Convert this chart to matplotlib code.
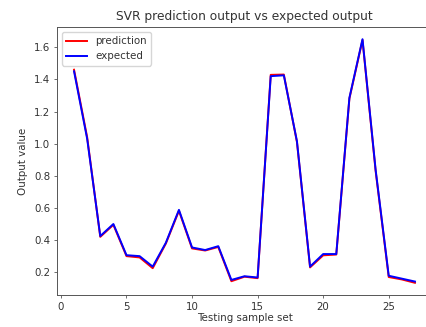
import numpy as np
import matplotlib
matplotlib.use("Agg")
import matplotlib.pyplot as plt

# test sample indices
samples = list(range(1, 28))

expected = [1.45, 1.03, 0.425, 0.50, 0.306, 0.30, 0.235, 0.383, 0.588, 0.354,
            0.338, 0.362, 0.152, 0.175, 0.167, 1.42, 1.425, 1.015, 0.235, 0.313,
            0.313, 1.285, 1.65, 0.838, 0.178, 0.16, 0.142]

prediction = [1.46, 1.04, 0.42, 0.495, 0.30, 0.292, 0.225, 0.378, 0.582, 0.348,
              0.335, 0.357, 0.144, 0.172, 0.163, 1.428, 1.43, 1.01, 0.23, 0.305,
              0.31, 1.28, 1.645, 0.83, 0.17, 0.155, 0.134]

W, H = 427, 327
fig = plt.figure(figsize=(W / 100, H / 100), dpi=100)
ax = fig.add_axes([57 / W, (H - 295) / H, (432 - 57) / W, (295 - 27) / H])

ax.plot(samples, prediction, color="red", linewidth=1.4, label="prediction")
ax.plot(samples, expected, color="blue", linewidth=1.4, label="expected")

txt = "#333333"
ax.set_title("SVR prediction output vs expected output", fontsize=8.8, color=txt, pad=5)
ax.set_xlabel("Testing sample set", fontsize=7.4, color=txt, labelpad=1)
ax.set_ylabel("Output value", fontsize=7.4, color=txt)
ax.tick_params(labelsize=7.4, length=2.5, width=0.6, pad=2.5, labelcolor=txt, color="#555555")
for s in ax.spines.values():
    s.set_linewidth(0.7)
    s.set_color("#555555")
leg = ax.legend(loc="upper left", fontsize=7.4, handlelength=2.0)
for t in leg.get_texts():
    t.set_color(txt)

fig.savefig("out.png", dpi=100)
